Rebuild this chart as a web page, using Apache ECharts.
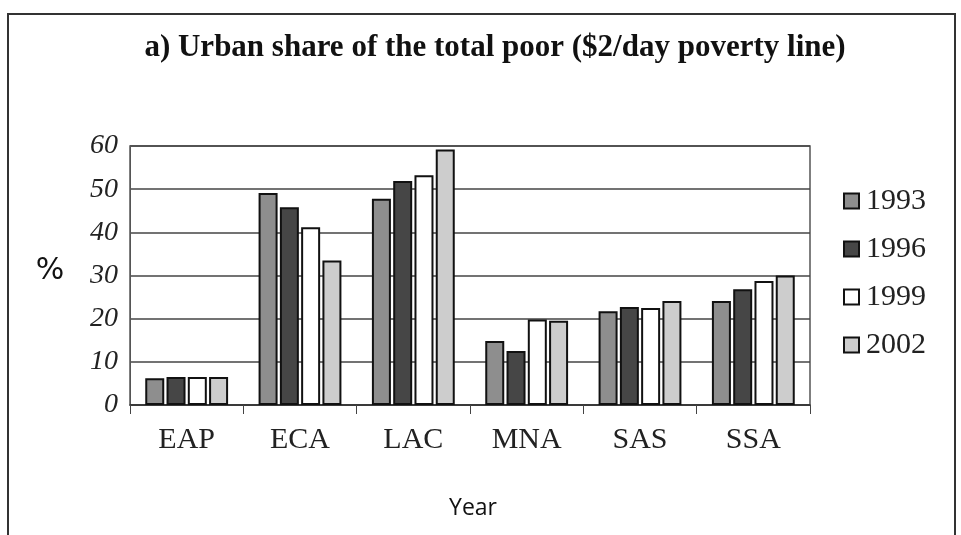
<!DOCTYPE html>
<html>
<head>
<meta charset="utf-8">
<script src="https://cdn.jsdelivr.net/npm/echarts@6/dist/echarts.min.js"></script>
<style>html,body{margin:0;padding:0;background:#fff}#c{width:961px;height:535px}</style>
</head>
<body>
<div id="c"></div>
<script>
const categories = ['EAP', 'ECA', 'LAC', 'MNA', 'SAS', 'SSA'];
const years = ['1993', '1996', '1999', '2002'];
const v1993 = [6.2, 49.1, 47.8, 14.8, 21.7, 24.1];
const v1996 = [6.5, 45.8, 51.9, 12.5, 22.7, 26.8];
const v1999 = [6.5, 41.2, 53.2, 19.8, 22.5, 28.7];
const v2002 = [6.5, 33.5, 59.2, 19.5, 24.1, 30.0];
const yTicks = [0, 10, 20, 30, 40, 50, 60];

const seriesValues = [v1993, v1996, v1999, v2002];
const colors = ['#8e8e8e', '#464646', '#ffffff', '#cdcdcd'];
const serif = '"Liberation Serif", "Times New Roman", serif';

const chart = echarts.init(document.getElementById('c'), null, {renderer: 'canvas'});
chart.setOption({
  backgroundColor: '#fff',
  animation: false,
  title: {
    text: 'a) Urban share of the total poor ($2/day poverty line)',
    left: 490, top: 27, textAlign: 'center',
    textStyle: {fontFamily: serif, fontWeight: 'bold', fontSize: 31, color: '#111'}
  },
  grid: {left: 130, right: 151, top: 146, bottom: 130, show: true, borderColor: '#555', borderWidth: 1.5, backgroundColor: 'transparent'},
  legend: {
    orient: 'vertical', left: 838, top: 181,
    data: years, itemWidth: 15, itemHeight: 15, itemGap: 18,
    icon: 'rect',
    textStyle: {fontFamily: serif, fontSize: 30, color: '#222', padding: [0, 0, 0, 2]}
  },
  xAxis: {
    type: 'category', data: categories,
    axisLine: {show: true, lineStyle: {color: '#333', width: 1.5}},
    axisTick: {show: true, length: 9, lineStyle: {color: '#444'}},
    axisLabel: {fontFamily: serif, fontSize: 30, color: '#222', margin: 20}
  },
  yAxis: {
    type: 'value', min: yTicks[0], max: yTicks[yTicks.length - 1], interval: 10,
    axisLine: {show: true, lineStyle: {color: '#555'}},
    axisTick: {show: false},
    splitLine: {lineStyle: {color: '#444', width: 1.5}},
    axisLabel: {fontFamily: serif, fontStyle: 'italic', fontSize: 28, color: '#222', margin: 12}
  },
  graphic: [
    {type: 'rect', shape: {x: 8, y: 14, width: 947, height: 540}, style: {fill: 'none', stroke: '#333', lineWidth: 2}, silent: true},
    {type: 'text', x: 50, y: 271, style: {text: '%', font: '30px "DejaVu Sans", sans-serif', fill: '#111', textAlign: 'center', textVerticalAlign: 'middle'}},
    {type: 'text', x: 473, y: 508, style: {text: 'Year', font: '23px "Liberation Sans Narrow", "Open Sans", sans-serif', fill: '#111', textAlign: 'center', textVerticalAlign: 'middle'}}
  ],
  series: years.map((y, i) => ({
    name: y, type: 'bar', data: seriesValues[i],
    barWidth: 19, barGap: '12%',
    itemStyle: {color: colors[i], borderColor: '#111', borderWidth: 2}
  }))
});
</script>
</body>
</html>
